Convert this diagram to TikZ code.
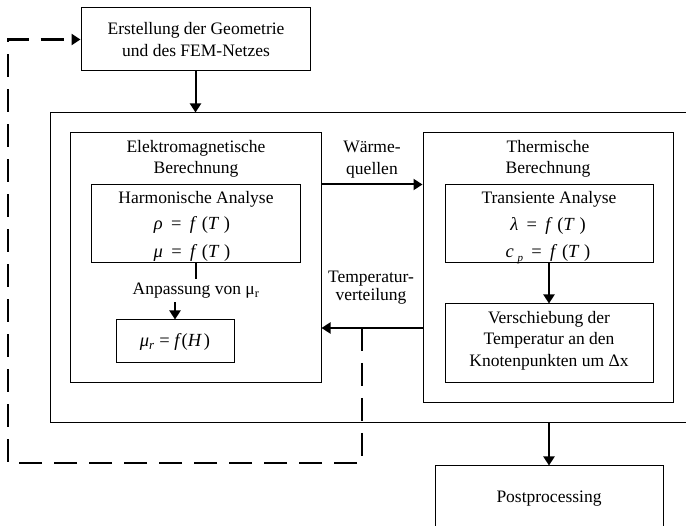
\documentclass[tikz,border=0pt]{standalone}
\usepackage{fontspec}
\setmainfont{Liberation Serif}
\usetikzlibrary{arrows.meta,calc}
\newcommand{\eqsp}{\hspace{0.45em}}
\begin{document}
\begin{tikzpicture}[x=1pt,y=-1pt,
  box/.style={draw,line width=1pt,inner sep=0pt},
  txt/.style={font=\fontsize{17.5}{21}\selectfont,inner sep=0pt,anchor=base},
  eq/.style={font=\fontsize{18.5}{21}\selectfont,inner sep=0pt,anchor=base},
  arr/.style={line width=2pt,-{Triangle[width=11pt,length=9pt]}},
  plain/.style={line width=2pt},
  fbline/.style={line width=2.6pt,dash pattern=on 23pt off 12pt,-{Triangle[width=11pt,length=9pt]}}]
\useasboundingbox (0,0) rectangle (686,526);
\clip (0,0) rectangle (686,526);

% boxes
\node[box,minimum width=229pt,minimum height=63pt] (top) at (195.5,39.5) {};
\node[box,minimum width=650pt,minimum height=310pt] (outer) at (375,268) {};
\node[box,minimum width=250.5pt,minimum height=250pt] (emBox) at (195.75,258) {};
\node[box,minimum width=209pt,minimum height=78pt] (harm) at (195.5,224) {};
\node[box,minimum width=118pt,minimum height=43pt] (mur) at (175,341.5) {};
\node[box,minimum width=250pt,minimum height=270pt] (thBox) at (548,268) {};
\node[box,minimum width=208pt,minimum height=78pt] (trans) at (549,224) {};
\node[box,minimum width=208pt,minimum height=79pt] (versch) at (549,343.5) {};
\node[box,minimum width=228pt,minimum height=94pt] (post) at (549,513) {};

% texts
\node[txt] (t1) at (196,35) {Erstellung der Geometrie};
\node[txt] (t2) at (196,57) {und des FEM-Netzes};
\node[txt] (e1) at (196,153) {Elektromagnetische};
\node[txt] (e2) at (196,174) {Berechnung};
\node[txt] (h1) at (196,204) {Harmonische Analyse};
\node[eq] (h2) at (192,230) {\textit{ρ}\eqsp=\eqsp\textit{f}\hspace{0.25em}(\textit{T}\hspace{0.25em})};
\node[eq] (h3) at (192,258) {\textit{μ}\eqsp=\eqsp\textit{f}\hspace{0.25em}(\textit{T}\hspace{0.25em})};
\node[txt] (anp) at (196,295) {Anpassung von μ\textsubscript{r}};
\node[eq] (m1) at (175,347) {\textit{μ}\textsubscript{\textit{r}} = \textit{f}(\textit{H}\hspace{0.1em})};
\node[txt] (w1) at (372,153) {Wärme-};
\node[txt] (w2) at (372,175) {quellen};
\node[txt] (v1) at (371,283) {Temperatur-};
\node[txt] (v2) at (371,301) {verteilung};
\node[txt] (th1) at (548,153) {Thermische};
\node[txt] (th2) at (548,174) {Berechnung};
\node[txt] (tr1) at (549,204) {Transiente Analyse};
\node[eq] (tr2) at (548,231) {\textit{λ}\eqsp=\eqsp\textit{f}\hspace{0.25em}(\textit{T}\hspace{0.25em})};
\node[eq] (tr3) at (548,258) {\textit{c}\hspace{0.2em}\raisebox{-0.45ex}{\fontsize{11}{11}\selectfont\textit{p}}\eqsp=\eqsp\textit{f}\hspace{0.25em}(\textit{T}\hspace{0.25em})};
\node[txt] (vs1) at (549,324) {Verschiebung der};
\node[txt] (vs2) at (549,345) {Temperatur an den};
\node[txt] (vs3) at (549,367) {Knotenpunkten um Δx};
\node[txt] (p1) at (549,503) {Postprocessing};

% connectors
\coordinate (fb) at (362,328);
\coordinate (fbBR) at (362,463);
\coordinate (fbBL) at (8,463);
\coordinate (fbTL) at (8,39.5);

\draw[arr] (top.south) -- (top.south |- outer.north);
\draw[plain] (harm.south) -- ($(harm.south)+(0,16)$);
\draw[arr] ($(mur.north)+(0,-17)$) -- (mur.north);
\draw[arr] (emBox.east |- harm.north) -- (thBox.west |- harm.north);
\draw[arr] (trans.south) -- (versch.north);
\draw[arr] (thBox.west |- fb) -- (emBox.east |- fb);
\draw[arr] (post.north |- outer.south) -- (post.north);
\draw[fbline] (fb) -- (fbBR) -- (fbBL) -- (fbTL) -- (top.west);
\end{tikzpicture}
\end{document}
